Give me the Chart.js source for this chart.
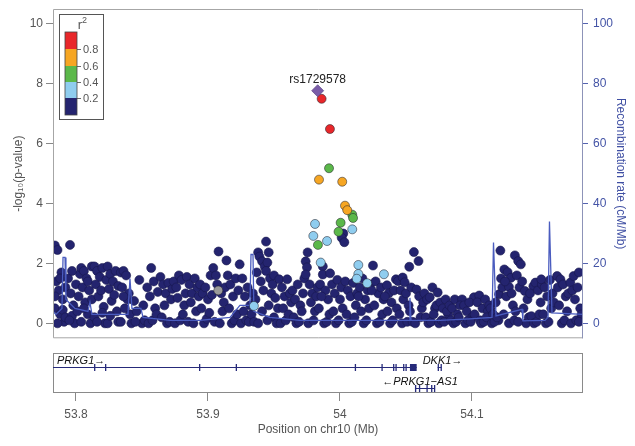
<!DOCTYPE html>
<html><head><meta charset="utf-8">
<script src="https://cdn.jsdelivr.net/npm/chart.js@4"></script>
<style>
html,body{margin:0;padding:0;background:#fff;}
#wrap{position:relative;width:635px;height:446px;overflow:hidden;}
#c1{position:absolute;left:0;top:0;}
#c2{position:absolute;left:0;top:345px;}
</style></head><body>
<div id="wrap"><canvas id="c1" width="635" height="345"></canvas><canvas id="c2" width="635" height="101"></canvas></div>
<script>
// ---------------- DATA ----------------
const xMin = 53.7826, xMax = 54.1841;
const xTicks = [53.8, 53.9, 54.0, 54.1];
const yTicks = [0, 2, 4, 6, 8, 10];
const recTicks = [0, 20, 40, 60, 80, 100];
const r2Labels = ['0.8', '0.6', '0.4', '0.2'];

const leadName = 'rs1729578';
const leadPoint = [[53.9831, 7.77]];
const redPoints = [[53.9861, 7.50], [53.9924, 6.49]];
const orangePoints = [[53.9841, 4.80], [54.0017, 4.73], [54.0038, 3.93], [54.0055, 3.78]];
const greenPoints = [[53.9917, 5.18], [54.0093, 3.63], [54.0099, 3.52], [54.0005, 3.36], [53.9989, 3.06], [53.9833, 2.62]];
const lightBluePoints = [[53.9811, 3.32], [54.0093, 3.14], [53.9798, 2.92], [53.9902, 2.75], [53.9854, 2.03],
  [54.0139, 1.95], [54.0139, 1.65], [54.0127, 1.49], [54.0206, 1.34], [54.0333, 1.64], [53.9348, 0.58]];
const grayPoints = [[53.9078, 1.10]];
const navyPoints = [
  [53.784,2.6],[53.786,2.45],[53.785,1.4],[53.787,1.1],[53.789,1.7],[53.790,0.8],[53.784,0.5],[53.788,0.3],[53.791,0.05],[53.786,0.0],[53.792,1.2],[53.790,0.45],[53.784,0.9],[53.792,0.2],[53.788,1.5],
  [53.7955,2.62],[53.794,1.5],[53.796,1.0],[53.798,0.6],[53.800,1.3],[53.797,0.25],[53.799,0.0],[53.802,0.9],[53.801,0.4],[53.795,0.1],[53.803,1.65],[53.797,1.75],
  [53.804,1.85],[53.806,1.75],[53.805,1.2],[53.808,1.5],[53.807,0.7],[53.810,1.1],[53.809,0.3],[53.812,0.8],[53.804,0.05],[53.811,0.0],[53.806,0.5],[53.812,1.9],[53.809,1.4],
  [53.814,1.9],[53.816,1.75],[53.815,1.3],[53.818,1.55],[53.817,0.9],[53.820,1.85],[53.819,1.1],[53.821,0.55],[53.814,0.2],[53.822,0.0],[53.816,0.05],[53.820,0.35],[53.823,1.45],
  [53.824,1.9],[53.826,1.65],[53.825,1.15],[53.828,1.4],[53.827,0.75],[53.830,1.75],[53.829,0.95],[53.831,0.4],[53.824,0.0],[53.832,0.05],[53.826,0.25],[53.832,1.25],
  [53.834,1.7],[53.836,1.75],[53.835,1.2],[53.838,1.6],[53.837,0.5],[53.840,1.0],[53.839,0.8],[53.841,0.3],[53.834,0.05],[53.842,0.0],[53.836,0.9],
  [53.844,0.75],[53.848,1.45],[53.846,0.4],[53.850,0.0],[53.852,0.1],[53.845,0.05],[53.851,0.6],
  [53.854,1.2],[53.857,1.85],[53.856,0.9],[53.859,1.4],[53.860,0.5],[53.862,1.05],[53.855,0.0],[53.858,0.1],[53.861,0.3],
  [53.864,1.55],[53.866,1.3],[53.868,1.0],[53.867,0.6],[53.870,1.35],[53.872,0.8],[53.865,0.2],[53.869,0.0],[53.871,0.05],[53.873,1.15],
  [53.874,1.4],[53.876,1.2],[53.878,1.6],[53.877,0.85],[53.880,1.45],[53.882,0.6],[53.875,0.0],[53.879,0.1],[53.881,0.3],[53.883,1.0],
  [53.884,1.55],[53.886,1.3],[53.888,1.0],[53.890,1.5],[53.892,1.2],[53.887,0.7],[53.885,0.05],[53.889,0.0],[53.891,0.4],[53.893,0.9],
  [53.894,1.3],[53.896,1.0],[53.898,1.2],[53.900,0.8],[53.902,1.6],[53.895,0.5],[53.897,0.0],[53.899,0.15],[53.901,0.35],[53.903,0.95],
  [53.904,1.85],[53.906,1.6],[53.908,2.4],[53.907,1.3],[53.910,1.0],[53.912,0.7],[53.905,0.05],[53.909,0.0],[53.911,0.4],[53.913,1.2],
  [53.914,2.1],[53.915,1.6],[53.917,1.3],[53.919,0.9],[53.921,1.5],[53.916,0.5],[53.918,0.0],[53.920,0.1],[53.922,0.3],[53.923,1.1],
  [53.924,1.97],[53.926,1.5],[53.928,0.9],[53.927,0.4],[53.930,1.2],[53.932,0.6],[53.925,0.0],[53.929,0.1],[53.931,0.05],[53.933,0.3],
  [53.934,1.0],[53.936,0.8],[53.938,2.37],[53.939,2.23],[53.941,2.07],[53.937,1.7],[53.940,1.4],[53.942,1.1],[53.935,0.05],[53.938,0.0],[53.941,0.4],[53.943,1.9],
  [53.944,2.73],[53.945,2.03],[53.946,2.37],[53.944,1.75],[53.947,1.5],[53.949,1.3],[53.948,1.0],[53.951,0.85],[53.946,0.6],[53.950,0.2],[53.952,0.0],[53.945,0.1],[53.953,0.5],[53.950,1.6],
  [53.954,1.47],[53.956,1.2],[53.958,0.9],[53.960,1.47],[53.962,1.0],[53.957,0.5],[53.955,0.0],[53.959,0.1],[53.961,0.3],[53.963,0.7],
  [53.964,1.1],[53.966,0.8],[53.968,1.3],[53.970,0.6],[53.972,1.0],[53.965,0.2],[53.967,0.0],[53.969,0.05],[53.971,0.4],[53.973,1.5],
  [53.974,2.07],[53.9755,2.37],[53.975,1.87],[53.974,1.63],[53.977,1.3],[53.979,1.0],[53.978,0.7],[53.981,0.4],[53.976,0.0],[53.980,0.1],[53.982,0.9],[53.983,1.2],
  [53.987,1.9],[53.987,1.63],[53.9925,1.67],[53.985,1.3],[53.989,1.1],[53.991,0.8],[53.984,0.5],[53.988,0.0],[53.990,0.05],[53.992,0.3],[53.986,0.9],
  [54.0025,3.0],[54.0013,2.86],[54.0033,2.71],[53.994,1.3],[53.996,1.0],[53.998,1.45],[54.000,0.8],[53.995,0.4],[53.997,0.0],[53.999,0.1],[54.002,0.5],[54.001,1.2],
  [54.004,1.4],[54.006,1.1],[54.008,0.9],[54.010,1.35],[54.012,0.6],[54.005,0.3],[54.007,0.0],[54.009,0.05],[54.011,0.2],[54.013,1.0],
  [54.015,1.2],[54.017,1.5],[54.019,0.8],[54.021,1.1],[54.016,0.4],[54.018,0.0],[54.020,0.1],[54.022,0.5],[54.023,1.3],[54.014,0.9],
  [54.025,1.93],[54.027,1.4],[54.029,1.0],[54.031,1.2],[54.026,0.6],[54.028,0.0],[54.030,0.05],[54.032,0.3],[54.024,1.1],[54.033,0.8],
  [54.0356,1.27],[54.0424,1.47],[54.037,1.0],[54.039,0.7],[54.041,1.1],[54.036,0.4],[54.038,0.0],[54.040,0.1],[54.034,0.9],[54.043,0.5],
  [54.044,1.41],[54.0475,1.53],[54.049,1.37],[54.046,1.1],[54.048,0.8],[54.050,1.0],[54.052,0.6],[54.045,0.3],[54.047,0.0],[54.051,0.05],[54.053,0.4],
  [54.0525,1.89],[54.056,2.38],[54.0595,2.08],[54.054,1.2],[54.058,1.13],[54.060,0.9],[54.062,0.5],[54.055,0.05],[54.057,0.0],[54.061,0.2],[54.063,0.7],
  [54.064,1.0],[54.066,0.8],[54.068,0.87],[54.070,1.2],[54.072,0.5],[54.065,0.2],[54.067,0.0],[54.069,0.05],[54.071,0.3],[54.073,0.6],
  [54.074,1.03],[54.076,0.7],[54.078,0.5],[54.080,0.8],[54.082,0.3],[54.075,0.0],[54.077,0.1],[54.079,0.05],[54.081,0.4],[54.083,0.6],
  [54.087,0.8],[54.0925,0.8],[54.085,0.5],[54.089,0.3],[54.091,0.6],[54.084,0.1],[54.086,0.0],[54.088,0.05],[54.090,0.2],
  [54.094,0.6],[54.096,0.4],[54.1015,0.87],[54.098,0.7],[54.100,0.2],[54.095,0.0],[54.097,0.1],[54.099,0.05],[54.102,0.3],
  [54.1055,0.93],[54.104,0.7],[54.108,0.5],[54.110,0.8],[54.112,0.4],[54.106,0.1],[54.107,0.0],[54.109,0.05],[54.111,0.2],[54.113,0.6],
  [54.1215,2.43],[54.1205,0.97],[54.114,0.5],[54.116,0.3],[54.118,0.7],[54.120,0.1],[54.115,0.0],[54.117,0.05],[54.119,0.2],[54.122,1.5],[54.123,1.2],
  [54.1325,2.27],[54.1245,1.8],[54.127,1.71],[54.1295,1.52],[54.128,1.22],[54.125,1.4],[54.126,0.9],[54.130,1.0],[54.131,0.6],[54.124,0.3],[54.128,0.0],[54.132,0.1],[54.133,0.4],
  [54.135,2.08],[54.137,1.97],[54.134,1.6],[54.136,1.2],[54.138,1.4],[54.140,1.08],[54.142,0.8],[54.139,0.5],[54.141,0.0],[54.143,0.2],[54.135,0.05],
  [54.1465,1.24],[54.144,1.0],[54.148,1.36],[54.150,1.1],[54.152,0.7],[54.145,0.24],[54.147,0.0],[54.149,0.05],[54.151,0.3],[54.153,1.3],
  [54.1525,1.47],[54.155,1.2],[54.157,0.9],[54.159,1.45],[54.161,1.0],[54.154,0.3],[54.156,0.0],[54.158,0.05],[54.160,0.5],[54.162,0.7],
  [54.1645,1.58],[54.167,1.47],[54.165,1.2],[54.169,1.3],[54.171,0.9],[54.166,0.6],[54.168,0.0],[54.170,0.1],[54.172,0.4],[54.173,1.0],
  [54.1745,1.36],[54.177,1.58],[54.181,1.7],[54.176,1.1],[54.178,0.8],[54.180,1.2],[54.182,0.5],[54.175,0.0],[54.179,0.1],[54.183,0.3],[54.181,0.05]
];
// recombination rate (cM/Mb)
const recombPoints = [
  [53.7826,4],[53.7848,3],[53.7894,5],[53.7902,22],[53.7917,22],[53.7924,8],[53.7992,5],[53.8091,4],[53.8106,7],[53.8121,3],
  [53.8258,3],[53.8394,3],[53.8409,15],[53.8424,5],[53.8492,5],[53.8508,2],[53.8712,1],[53.8939,1],[53.9167,2],[53.9242,6],
  [53.9318,6],[53.9326,23],[53.9341,23],[53.9348,4],[53.9470,2],[53.9697,1],[53.9924,1],[54.0227,1],[54.0523,1],[54.0530,8.5],
  [54.0538,1],[54.0758,1],[54.0985,1.5],[54.1152,2],[54.1163,27],[54.1182,2.5],[54.1379,4.7],[54.1386,0.8],[54.1553,1],[54.1576,2],
  [54.1587,34],[54.1606,3.5],[54.1841,3]
];
// genes: [start, end] in Mb, exons [start, end]
const prkg1Span = [53.70, 54.0581];
const prkg1Exons = [[53.8137,53.8141],[53.8220,53.8224],[53.8932,53.8936],[53.9210,53.9214],[54.0112,54.0116],[54.0314,54.0318],
  [54.0402,54.0406],[54.0420,54.0424],[54.0478,54.0482],[54.0496,54.0500],[54.0530,54.0581]];
const dkk1Span = [54.0740, 54.0768];
const dkk1Exons = [[54.0740,54.0745],[54.0762,54.0768]];
const prkg1as1Span = [54.0568, 54.0720];
const prkg1as1Exons = [[54.0568,54.0578],[54.0598,54.0606],[54.0655,54.0660],[54.0690,54.0696],[54.0712,54.0720]];

// ---------------- RENDER ----------------
const FONT = '"Liberation Sans", Arial, sans-serif';
Chart.defaults.font.family = FONT;
const xy = arr => arr.map(p => ({x: p[0], y: p[1]}));

const NAVY = '#24246f';
const r2Colors = ['#e8272a', '#f6a623', '#5bb84a', '#8fcdef', NAVY];

const framePlugin = {
  id: 'frame',
  afterDatasetsDraw(chart) {
    const {ctx, chartArea: a} = chart;
    ctx.save();
    ctx.strokeStyle = '#a6a6a6'; ctx.lineWidth = 1;
    ctx.beginPath();
    ctx.moveTo(a.right, a.top + 0.5); ctx.lineTo(a.left + 0.5, a.top + 0.5);
    ctx.lineTo(a.left + 0.5, a.bottom - 0.5); ctx.lineTo(a.right, a.bottom - 0.5);
    ctx.stroke();
    ctx.strokeStyle = '#8d93b8';
    ctx.beginPath(); ctx.moveTo(a.right - 0.5, a.top); ctx.lineTo(a.right - 0.5, a.bottom); ctx.stroke();
    ctx.restore();
  }
};

const legendPlugin = {
  id: 'r2legend',
  afterDatasetsDraw(chart) {
    const ctx = chart.ctx;
    const bx = 59, by = 14, bw = 44, bh = 105;
    ctx.save();
    ctx.fillStyle = '#fff'; ctx.fillRect(bx, by, bw, bh);
    ctx.strokeStyle = '#555'; ctx.lineWidth = 1; ctx.strokeRect(bx + 0.5, by + 0.5, bw, bh);
    ctx.fillStyle = '#555'; ctx.textBaseline = 'alphabetic';
    ctx.font = '13px ' + FONT; ctx.textAlign = 'right';
    ctx.fillText('r', 82, 29);
    ctx.font = '9px ' + FONT; ctx.textAlign = 'left';
    ctx.fillText('2', 82, 23);
    const edges = [32, 49, 66, 82, 98, 115];
    for (let i = 0; i < 5; i++) {
      ctx.fillStyle = r2Colors[i];
      ctx.fillRect(65, edges[i], 12, edges[i + 1] - edges[i]);
    }
    ctx.strokeStyle = '#444'; ctx.lineWidth = 0.8;
    ctx.strokeRect(65, 32, 12, 83);
    ctx.textAlign = 'left'; ctx.textBaseline = 'middle'; ctx.fillStyle = '#555'; ctx.font = '11px ' + FONT;
    for (let i = 0; i < 4; i++) {
      const y = edges[i + 1];
      ctx.beginPath(); ctx.moveTo(77, y + 0.5); ctx.lineTo(81, y + 0.5); ctx.stroke();
      ctx.fillText(r2Labels[i], 83, y + 0.5);
    }
    // lead SNP label
    const xs = chart.scales.x, ys = chart.scales.y;
    const px = xs.getPixelForValue(leadPoint[0][0]), py = ys.getPixelForValue(leadPoint[0][1]);
    ctx.fillStyle = '#222'; ctx.font = '12px ' + FONT; ctx.textAlign = 'center'; ctx.textBaseline = 'alphabetic';
    ctx.fillText(leadName, px, py - 8);
    ctx.restore();
  }
};

const ptDs = (pts, color, order, extra) => Object.assign({
  data: xy(pts), backgroundColor: color, borderColor: 'rgba(30,30,40,0.75)', borderWidth: 0.7,
  pointRadius: 4.5, pointHoverRadius: 4.5, yAxisID: 'y', order: order
}, extra || {});

new Chart(document.getElementById('c1'), {
  type: 'scatter',
  data: {
    datasets: [
      ptDs(leadPoint, '#7a5ca8', 0, {pointStyle: 'rectRot', pointRadius: 6, borderColor: '#5a4585'}),
      ptDs(redPoints, r2Colors[0], 1),
      ptDs(orangePoints, r2Colors[1], 2),
      ptDs(greenPoints, r2Colors[2], 3),
      ptDs(lightBluePoints, r2Colors[3], 4),
      ptDs(grayPoints, '#9a9a9a', 5),
      {data: xy(recombPoints), showLine: true, borderColor: '#4a5cbf', borderWidth: 1.3, pointRadius: 0,
       fill: false, tension: 0, yAxisID: 'y2', order: 6},
      ptDs(navyPoints, NAVY, 7, {borderColor: '#17174d', borderWidth: 0.6})
    ]
  },
  options: {
    responsive: false, animation: false, events: [],
    layout: {padding: {top: 9, bottom: 6, left: 0, right: 0}},
    plugins: {legend: {display: false}, tooltip: {enabled: false}},
    scales: {
      x: {type: 'linear', min: xMin, max: xMax, display: false},
      y: {
        position: 'left', min: -0.5, max: 10.5,
        afterFit(s) { s.width = 53; s.paddingTop = 0; s.paddingBottom = 0; },
        afterBuildTicks(s) { s.ticks = yTicks.map(v => ({value: v})); },
        grid: {drawOnChartArea: false, tickLength: 7, color: '#888'},
        border: {display: false},
        ticks: {color: '#555', font: {size: 12}, padding: 3},
        title: {display: true, text: '-log₁₀(p-value)', color: '#555', font: {size: 12}, padding: {top: 11, bottom: 0}}
      },
      y2: {
        position: 'right', min: -5, max: 105,
        afterFit(s) { s.width = 52; s.paddingTop = 0; s.paddingBottom = 0; },
        afterBuildTicks(s) { s.ticks = recTicks.map(v => ({value: v})); },
        grid: {drawOnChartArea: false, tickLength: 5, color: '#5563b0'},
        border: {display: false},
        ticks: {color: '#4454a6', font: {size: 12}, padding: 5},
        title: {display: true, text: 'Recombination rate (cM/Mb)', color: '#3f4fa3', font: {size: 12}, padding: {top: 7, bottom: 0}}
      }
    }
  },
  plugins: [framePlugin, legendPlugin]
});

const genePlugin = {
  id: 'genes',
  afterDatasetsDraw(chart) {
    const {ctx, chartArea: a} = chart;
    const xs = chart.scales.x;
    const X = v => Math.max(a.left, Math.min(a.right, xs.getPixelForValue(v)));
    ctx.save();
    ctx.strokeStyle = '#8a8a8a'; ctx.lineWidth = 1;
    ctx.strokeRect(a.left + 0.5, a.top + 0.5, a.right - a.left - 1, a.bottom - a.top - 1);
    const GC = '#262a7a';
    const drawGene = (span, exons, y) => {
      ctx.strokeStyle = GC; ctx.lineWidth = 1;
      ctx.beginPath(); ctx.moveTo(X(span[0]), y + 0.5); ctx.lineTo(X(span[1]), y + 0.5); ctx.stroke();
      ctx.fillStyle = GC;
      exons.forEach(e => {
        const x1 = X(e[0]), x2 = X(e[1]);
        ctx.fillRect(x1, y - 3, Math.max(1.3, x2 - x1), 7);
      });
    };
    const y1 = a.top + 14, y2 = a.top + 35;
    drawGene(prkg1Span, prkg1Exons, y1);
    drawGene(dkk1Span, dkk1Exons, y1);
    drawGene(prkg1as1Span, prkg1as1Exons, y2);
    ctx.fillStyle = '#111'; ctx.font = 'italic 11px ' + FONT; ctx.textBaseline = 'alphabetic';
    ctx.textAlign = 'left';
    ctx.fillText('PRKG1→', a.left + 4, y1 - 3);
    ctx.textAlign = 'center';
    ctx.fillText('DKK1→', X((dkk1Span[0] + dkk1Span[1]) / 2) + 3, y1 - 3);
    ctx.fillText('←PRKG1−AS1', X((prkg1as1Span[0] + prkg1as1Span[1]) / 2) - 5, y2 - 3);
    ctx.restore();
  }
};

new Chart(document.getElementById('c2'), {
  type: 'scatter',
  data: {datasets: [{data: [], yAxisID: 'y'}]},
  options: {
    responsive: false, animation: false, events: [],
    layout: {padding: {top: 8, bottom: 0, left: 53, right: 52}},
    plugins: {legend: {display: false}, tooltip: {enabled: false}},
    scales: {
      x: {
        type: 'linear', min: xMin, max: xMax, position: 'bottom',
        afterFit(s) { s.height = 53; },
        afterBuildTicks(s) { s.ticks = xTicks.map(v => ({value: v})); },
        grid: {drawOnChartArea: false, tickLength: 8, color: '#888'},
        border: {display: false},
        ticks: {color: '#555', font: {size: 12}, padding: 6, maxRotation: 0,
          callback: v => String(Math.round(v * 10) / 10)},
        title: {display: true, text: 'Position on chr10 (Mb)', color: '#555', font: {size: 12}, padding: {top: 0, bottom: 9}}
      },
      y: {display: false, min: 0, max: 1}
    }
  },
  plugins: [genePlugin]
});
</script>
</body></html>
